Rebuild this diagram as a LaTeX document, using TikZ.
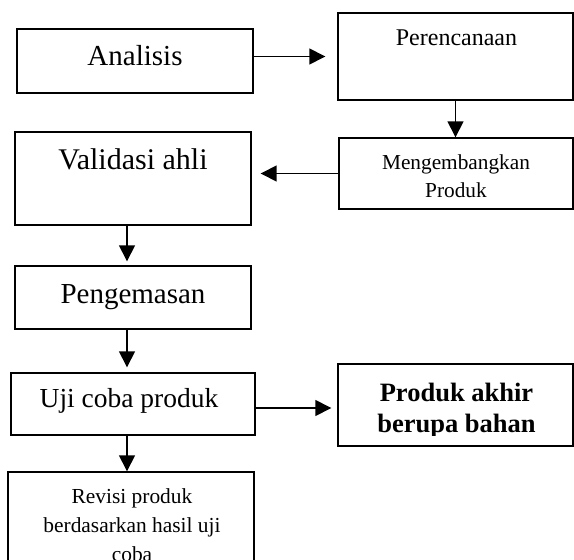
\documentclass[tikz,border=0pt]{standalone}
\usepackage{fontspec}
\setmainfont{Liberation Serif}
\usetikzlibrary{arrows.meta, positioning, calc}

\begin{document}
\begin{tikzpicture}[x=1bp, y=-1bp,
  arrow/.style={-{Triangle[length=16bp, width=16bp]}, line width=1.5bp},
  step_box/.style={draw, rectangle, line width=1.4bp, inner sep=0pt},
  box_text/.style={anchor=base, align=center, inner sep=0pt}
]
  \useasboundingbox (0,0) rectangle (574,560);

  % TOP ROW: Analisis and Perencanaan
  \node (analisis) [step_box, minimum width=236bp, minimum height=64bp] at (135,61) {};
  \node (analisis_txt) [box_text, font=\fontsize{29bp}{33bp}\selectfont] at (135,66) {Analisis};
  \node (perencanaan) [step_box, minimum width=235bp, minimum height=87bp] at (455.5,56.5) {};
  \node (perencanaan_txt) [box_text, font=\fontsize{24bp}{28bp}\selectfont] at (456.5,46) {Perencanaan};

  % SECOND ROW: Validasi ahli and Mengembangkan Produk
  \node (validasi) [step_box, minimum width=236bp, minimum height=93bp] at (133,178.5) {};
  \node (validasi_txt) [box_text, font=\fontsize{30bp}{34bp}\selectfont] at (133,170) {Validasi ahli};
  \node (mengembangkan) [step_box, minimum width=234bp, minimum height=71bp] at (456,173.5) {};
  % base of a multi-line node sits on its last line
  \node (mengembangkan_txt) [box_text, font=\fontsize{21.3bp}{28bp}\selectfont] at (456,198) {Mengembangkan\\Produk};

  % LEFT COLUMN: Pengemasan, Uji coba, Revisi
  \node (pengemasan) [step_box, minimum width=236bp, minimum height=63bp] at (133,297.5) {};
  \node (pengemasan_txt) [box_text, font=\fontsize{29bp}{33bp}\selectfont] at (133,303) {Pengemasan};
  \node (uji) [step_box, minimum width=244bp, minimum height=62bp] at (133,404) {};
  \node (uji_txt) [box_text, font=\fontsize{27.5bp}{32bp}\selectfont] at (129,407) {Uji coba produk};
  \node (revisi) [step_box, minimum width=246bp, minimum height=100bp] at (131,522) {};
  \node (revisi_txt) [box_text, font=\fontsize{21.4bp}{29bp}\selectfont] at (132,561) {Revisi produk\\berdasarkan hasil uji\\coba};

  % RESULT: Produk akhir
  \node (produk) [step_box, minimum width=235bp, minimum height=82bp] at (455.5,405) {};
  \begin{scope}
    \clip (338,364) rectangle (574,435);
    \node (produk_txt) [box_text, font=\fontsize{26.5bp}{31bp}\selectfont\bfseries] at (456.5,432) {Produk akhir\\berupa bahan};
  \end{scope}

  % Connections
  \draw[arrow, shorten >=12bp] (analisis.east |- perencanaan.west) -- (perencanaan.west);
  \draw[arrow] (perencanaan.south) -- (perencanaan.south |- mengembangkan.north);
  \draw[arrow, shorten >=9bp] (mengembangkan.west) -- (validasi.east |- mengembangkan.west);
  \draw[arrow, shorten >=4bp] ($(validasi.south)+(-6,0)$) -- ($(pengemasan.north)+(-6,0)$);
  \draw[arrow, shorten >=5bp] ($(pengemasan.south)+(-6,0)$) -- ($(uji.north)+(-6,0)$);
  \draw[arrow] ($(uji.south)+(-6,0)$) -- ($(revisi.north)+(-4,0)$);
  \draw[arrow, shorten >=6bp] ($(uji.east)+(0,4)$) -- ($(uji.east -| produk.west)+(0,4)$);

\end{tikzpicture}
\end{document}
